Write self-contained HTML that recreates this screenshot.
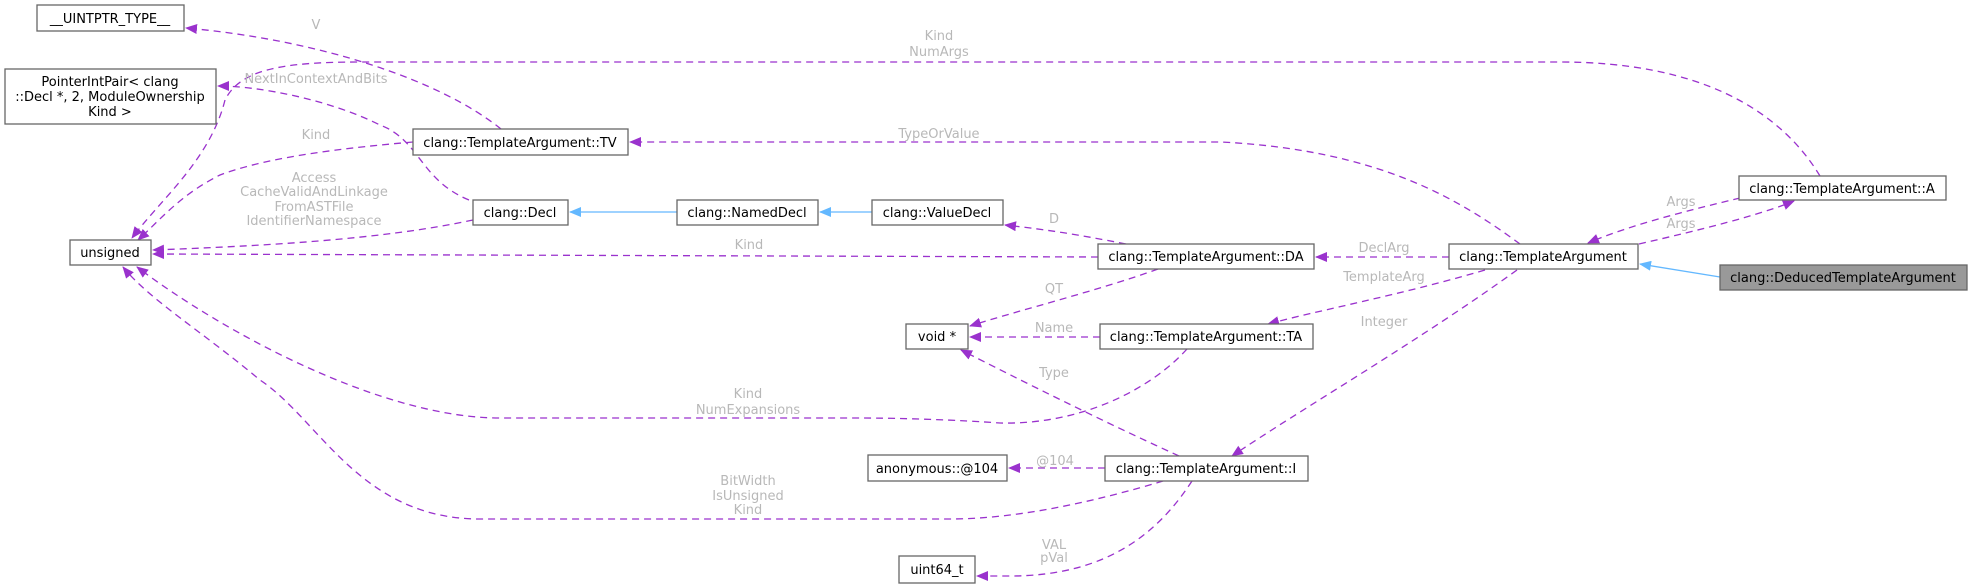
<!DOCTYPE html>
<html><head><meta charset="utf-8"><style>
html,body{margin:0;padding:0;background:#fff;}
svg{display:block;}
.n rect{fill:#fff;stroke:#666;stroke-width:1.3;}
.n text{font-family:"DejaVu Sans","Liberation Sans",sans-serif;font-size:13px;fill:#000;text-anchor:middle;}
.e{fill:none;stroke:#9a32cd;stroke-width:1.3;stroke-dasharray:7,5;}
.b{fill:none;stroke:#63b8ff;stroke-width:1.3;}
.l{font-family:"DejaVu Sans","Liberation Sans",sans-serif;font-size:13px;fill:#b8b8b8;text-anchor:middle;}
</style></head><body>
<svg width="1972" height="588" viewBox="0 0 1972 588" xmlns="http://www.w3.org/2000/svg">
<defs>
<marker id="p" markerWidth="12" markerHeight="10" refX="11" refY="5" orient="auto" markerUnits="userSpaceOnUse"><path d="M0,0 L12,5 L0,10 z" fill="#9a32cd"/></marker>
<marker id="q" markerWidth="12" markerHeight="10" refX="11" refY="5" orient="auto" markerUnits="userSpaceOnUse"><path d="M0,0 L12,5 L0,10 z" fill="#63b8ff"/></marker>
</defs>

<!-- edges -->
<path class="e" marker-end="url(#p)" d="M501,129 C440,80 320,40 186,28"/>
<text class="l" x="316" y="29">V</text>

<path class="e" marker-end="url(#p)" d="M1820,176 C1780,110 1700,62 1560,62 L360,62 C280,62 240,70 225,100 C210,160 160,200 132,238"/>
<text class="l" x="939" y="40">Kind</text>
<text class="l" x="939" y="56">NumArgs</text>

<path class="e" marker-end="url(#p)" d="M469,200 C420,180 420,140 380,125 C330,100 260,86 218,86"/>
<text class="l" x="316" y="83">NextInContextAndBits</text>

<path class="e" marker-end="url(#p)" d="M413,142 C320,150 260,160 220,175 C180,195 160,220 138,240"/>
<text class="l" x="316" y="139">Kind</text>

<path class="e" marker-end="url(#p)" d="M473,220 C380,240 260,246 153,250"/>
<text class="l" x="314" y="182">Access</text>
<text class="l" x="314" y="196">CacheValidAndLinkage</text>
<text class="l" x="314" y="211">FromASTFile</text>
<text class="l" x="314" y="225">IdentifierNamespace</text>

<path class="e" marker-end="url(#p)" d="M1098,257 L153,254"/>
<text class="l" x="749" y="249">Kind</text>

<path class="e" marker-end="url(#p)" d="M1520,244 C1460,200 1380,150 1221,142 L630,142"/>
<text class="l" x="939" y="138">TypeOrValue</text>

<path class="e" marker-end="url(#p)" d="M1126,244 C1080,235 1050,230 1005,225"/>
<text class="l" x="1054" y="223">D</text>

<path class="e" marker-end="url(#p)" d="M1449,257 L1316,257"/>
<text class="l" x="1384" y="252">DeclArg</text>

<path class="e" marker-end="url(#p)" d="M1740,198 C1690,210 1630,225 1588,243"/>
<text class="l" x="1681" y="206">Args</text>
<path class="e" marker-end="url(#p)" d="M1639,244 C1700,230 1760,215 1794,201"/>
<text class="l" x="1681" y="228">Args</text>

<path class="e" marker-end="url(#p)" d="M1158,269 C1100,290 1020,310 970,326"/>
<text class="l" x="1054" y="293">QT</text>

<path class="e" marker-end="url(#p)" d="M1485,270 C1400,295 1320,310 1268,324"/>
<text class="l" x="1384" y="281">TemplateArg</text>

<path class="e" marker-end="url(#p)" d="M1517,270 C1420,340 1300,410 1232,456"/>
<text class="l" x="1384" y="326">Integer</text>

<path class="e" marker-end="url(#p)" d="M1100,337 L970,337"/>
<text class="l" x="1054" y="332">Name</text>

<path class="e" marker-end="url(#p)" d="M1187,349 C1150,390 1080,425 1000,423 C960,420 900,418 860,418 L500,418 C380,418 220,330 137,267"/>
<text class="l" x="748" y="398">Kind</text>
<text class="l" x="748" y="414">NumExpansions</text>

<path class="e" marker-end="url(#p)" d="M1179,456 C1100,420 1020,380 961,350"/>
<text class="l" x="1054" y="377">Type</text>

<path class="e" marker-end="url(#p)" d="M1105,468 L1009,468"/>
<text class="l" x="1055" y="465">@104</text>

<path class="e" marker-end="url(#p)" d="M1163,481 C1100,500 1020,519 950,519 L480,519 C360,519 320,420 260,380 C200,330 150,300 123,267"/>
<text class="l" x="748" y="485">BitWidth</text>
<text class="l" x="748" y="500">IsUnsigned</text>
<text class="l" x="748" y="514">Kind</text>

<path class="e" marker-end="url(#p)" d="M1192,481 C1160,530 1110,576 1010,576 L977,576"/>
<text class="l" x="1054" y="549">VAL</text>
<text class="l" x="1054" y="562">pVal</text>

<!-- inheritance -->
<path class="b" marker-end="url(#q)" d="M872,212 L820,212"/>
<path class="b" marker-end="url(#q)" d="M677,212 L570,212"/>
<path class="b" marker-end="url(#q)" d="M1720,277 L1640,264"/>

<!-- nodes -->
<g class="n"><rect x="37" y="5" width="147" height="26"/><text x="110" y="23">__UINTPTR_TYPE__</text></g>
<g class="n"><rect x="5" y="69" width="211" height="55"/><text x="110" y="86">PointerIntPair&lt; clang</text><text x="110" y="101">::Decl *, 2, ModuleOwnership</text><text x="110" y="116">Kind &gt;</text></g>
<g class="n"><rect x="70" y="240" width="81" height="25"/><text x="110" y="257">unsigned</text></g>
<g class="n"><rect x="413" y="129" width="215" height="26"/><text x="520" y="147">clang::TemplateArgument::TV</text></g>
<g class="n"><rect x="473" y="200" width="95" height="25"/><text x="520" y="217">clang::Decl</text></g>
<g class="n"><rect x="677" y="200" width="141" height="25"/><text x="747" y="217">clang::NamedDecl</text></g>
<g class="n"><rect x="872" y="200" width="131" height="25"/><text x="937" y="217">clang::ValueDecl</text></g>
<g class="n"><rect x="1098" y="244" width="216" height="25"/><text x="1206" y="261">clang::TemplateArgument::DA</text></g>
<g class="n"><rect x="906" y="324" width="62" height="25"/><text x="937" y="341">void *</text></g>
<g class="n"><rect x="1100" y="324" width="213" height="25"/><text x="1206" y="341">clang::TemplateArgument::TA</text></g>
<g class="n"><rect x="868" y="455" width="139" height="26"/><text x="937" y="473">anonymous::@104</text></g>
<g class="n"><rect x="1105" y="456" width="203" height="25"/><text x="1206" y="473">clang::TemplateArgument::I</text></g>
<g class="n"><rect x="899" y="556" width="76" height="27"/><text x="937" y="574">uint64_t</text></g>
<g class="n"><rect x="1449" y="244" width="189" height="25"/><text x="1543" y="261">clang::TemplateArgument</text></g>
<g class="n"><rect x="1739" y="176" width="207" height="24"/><text x="1842" y="193">clang::TemplateArgument::A</text></g>
<g class="n"><rect x="1720" y="265" width="247" height="25" style="fill:#999"/><text x="1843" y="282">clang::DeducedTemplateArgument</text></g>
</svg>
</body></html>
